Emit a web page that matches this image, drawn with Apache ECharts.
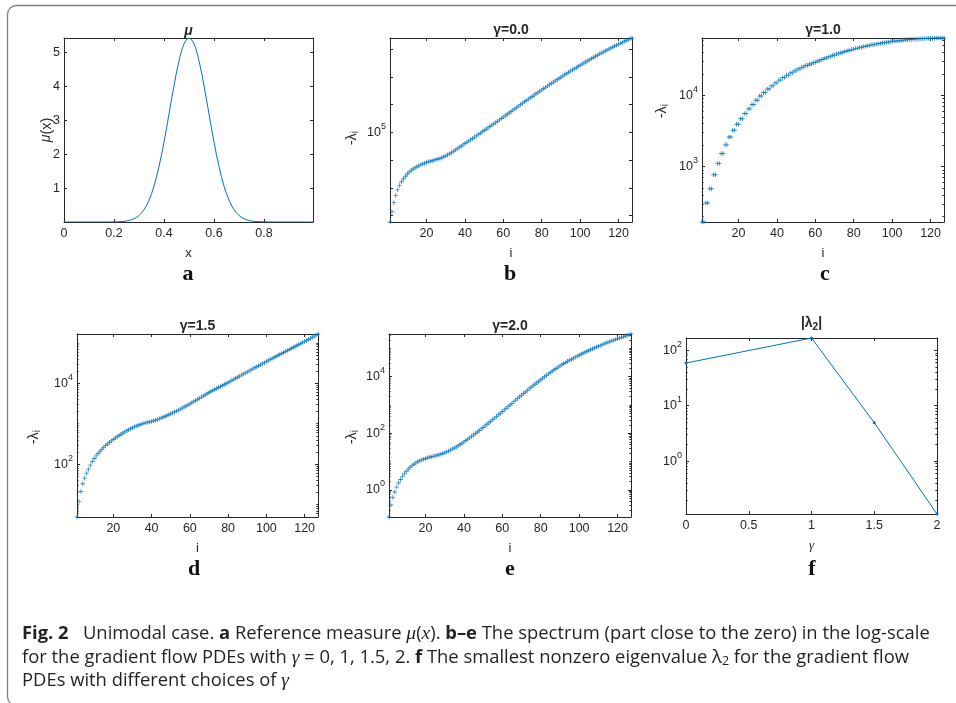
<!DOCTYPE html>
<html>
<head>
<meta charset="utf-8">
<script src="https://cdn.jsdelivr.net/npm/echarts@6.0.0/dist/echarts.min.js"></script>
<style>
  html, body { margin: 0; padding: 0; background: #fff; }
  #chart { width: 956px; height: 703px; }
</style>
</head>
<body>
<div id="chart"></div>
<script>
// ---- panel a: reference measure mu(x)
const muX = [0, 0.02, 0.04, 0.06, 0.08, 0.1, 0.12, 0.14, 0.16, 0.18,
  0.2, 0.22, 0.24, 0.26, 0.28, 0.3, 0.32, 0.34, 0.36, 0.38,
  0.4, 0.42, 0.44, 0.46, 0.48, 0.5, 0.52, 0.54, 0.56, 0.58,
  0.6, 0.62, 0.64, 0.66, 0.68, 0.7, 0.72, 0.74, 0.76, 0.78,
  0.8, 0.82, 0.84, 0.86, 0.88, 0.9, 0.92, 0.94, 0.96, 0.98, 0.996];
const muY = [0, 0, 0, 0, 0, 0, 0, 0, 0, 0.001,
  0.003, 0.008, 0.019, 0.045, 0.096, 0.194, 0.365, 0.644, 1.06, 1.64,
  2.36, 3.19, 4.03, 4.76, 5.26, 5.435, 5.26, 4.76, 4.03, 3.19,
  2.36, 1.64, 1.06, 0.644, 0.365, 0.194, 0.096, 0.045, 0.019, 0.008,
  0.003, 0.001, 0, 0, 0, 0, 0, 0, 0, 0, 0];

// ---- panels b-e: -lambda_i, i = 1..127
const lamB = [59, 138, 295, 537, 851, 1230, 1660, 2140, 2630, 3160,
  3720, 4270, 4790, 5250, 5750, 6310, 6760, 7240, 7760, 8320,
  8710, 9120, 9550, 1.00e4, 1.05e4, 1.10e4, 1.15e4, 1.23e4, 1.32e4, 1.41e4,
  1.55e4, 1.70e4, 1.86e4, 2.09e4, 2.34e4, 2.57e4, 2.88e4, 3.16e4, 3.55e4, 3.98e4,
  4.37e4, 4.90e4, 5.37e4, 6.03e4, 6.76e4, 7.50e4, 8.32e4, 9.33e4, 1.05e5, 1.17e5,
  1.29e5, 1.45e5, 1.62e5, 1.82e5, 2.00e5, 2.24e5, 2.51e5, 2.82e5, 3.16e5, 3.55e5,
  3.98e5, 4.47e5, 5.01e5, 5.62e5, 6.31e5, 7.08e5, 7.94e5, 8.91e5, 1.00e6, 1.12e6,
  1.26e6, 1.41e6, 1.58e6, 1.76e6, 1.95e6, 2.19e6, 2.45e6, 2.75e6, 3.02e6, 3.39e6,
  3.80e6, 4.17e6, 4.68e6, 5.25e6, 5.75e6, 6.46e6, 7.08e6, 7.94e6, 8.71e6, 9.77e6,
  1.07e7, 1.20e7, 1.32e7, 1.45e7, 1.62e7, 1.78e7, 1.95e7, 2.14e7, 2.40e7, 2.63e7,
  2.88e7, 3.16e7, 3.47e7, 3.80e7, 4.17e7, 4.57e7, 5.01e7, 5.50e7, 6.03e7, 6.61e7,
  7.24e7, 7.76e7, 8.51e7, 9.33e7, 1.00e8, 1.10e8, 1.17e8, 1.29e8, 1.38e8, 1.51e8,
  1.62e8, 1.74e8, 1.91e8, 2.04e8, 2.19e8, 2.34e8, 2.51e8];
const lamC = [167, 167, 309, 309, 490, 490, 767, 767, 1110, 1110,
  1530, 1530, 2020, 2020, 2600, 2600, 3240, 3240, 3940, 3940,
  4700, 4700, 5550, 5550, 6460, 6460, 7450, 7450, 8550, 8550,
  9770, 9770, 10960, 10960, 12250, 12250, 13580, 13580, 14960, 14960,
  16370, 16370, 17780, 17780, 19230, 19230, 20650, 20650, 22080, 22080,
  23500, 23500, 24900, 24900, 26240, 26240, 27540, 27540, 28840, 28840,
  30300, 30300, 31900, 31900, 33500, 33500, 35000, 35000, 36600, 36600,
  38200, 38200, 39700, 39700, 41200, 41200, 42700, 42700, 44200, 44200,
  45700, 45700, 47100, 47100, 48500, 48500, 49800, 49800, 51100, 51100,
  52300, 52300, 53500, 53500, 54700, 54700, 55700, 55700, 56700, 56700,
  57700, 57700, 58500, 58500, 59400, 59400, 60200, 60200, 60900, 60900,
  61500, 61500, 62000, 62000, 62500, 62500, 62900, 62900, 63300, 63300,
  63500, 63500, 63700, 63700, 63800, 63800, 63800];
const lamD = [4.94, 12.0, 21.1, 32.7, 45.1, 60.0, 75.3, 94.4, 116, 138,
  160, 184, 209, 234, 260, 288, 316, 347, 376, 407,
  442, 479, 513, 550, 589, 627, 667, 708, 750, 794,
  836, 877, 916, 955, 989, 1020, 1050, 1080, 1100, 1140,
  1180, 1220, 1260, 1320, 1380, 1450, 1510, 1590, 1670, 1760,
  1850, 1950, 2060, 2170, 2290, 2430, 2580, 2740, 2910, 3090,
  3300, 3520, 3750, 4000, 4270, 4550, 4850, 5180, 5520, 5890,
  6240, 6610, 7000, 7410, 7850, 8320, 8810, 9330, 9890, 10500,
  11100, 11800, 12500, 13300, 14100, 15000, 15900, 16900, 18000, 19100,
  20200, 21400, 22700, 24100, 25500, 27100, 28700, 30500, 32300, 34300,
  36300, 38500, 40700, 43200, 45700, 48400, 51300, 54300, 57500, 61000,
  64600, 68200, 72300, 76400, 80900, 85500, 90600, 95700, 101000, 107000,
  114000, 121000, 129000, 137000, 146000, 156000, 165000];
const lamE = [0.111, 0.295, 0.537, 0.851, 1.26, 1.76, 2.34, 3.02, 3.76, 4.57,
  5.43, 6.31, 7.24, 8.13, 9.02, 9.89, 10.7, 11.5, 12.2, 12.9,
  13.6, 14.2, 14.8, 15.4, 16.0, 16.7, 17.4, 18.3, 19.3, 20.4,
  21.9, 23.6, 25.5, 27.7, 30.2, 33.1, 36.5, 40.4, 44.8, 49.8,
  55.5, 61.9, 69.3, 77.8, 87.5, 98.6, 111, 126, 143, 161,
  183, 208, 236, 268, 305, 347, 395, 451, 514, 586,
  670, 766, 875, 1000, 1140, 1310, 1490, 1710, 1950, 2220,
  2540, 2880, 3280, 3720, 4230, 4790, 5410, 6110, 6890, 7760,
  8790, 9930, 11200, 12600, 14100, 15800, 17600, 19500, 21700, 24000,
  26400, 29000, 31800, 34800, 38000, 41400, 45000, 48900, 53000, 57300,
  61900, 66800, 72100, 77600, 83600, 89700, 96400, 103000, 111000, 118000,
  127000, 135000, 144000, 153000, 163000, 173000, 184000, 195000, 207000, 219000,
  231000, 244000, 258000, 273000, 288000, 304000, 321000];

// ---- panel f: |lambda_2| against gamma
const gammaF = [0, 1, 1.5, 2];
const lam2F = [59, 167, 4.94, 0.111];

// ---- ticks
const xTicksA = [0, 0.2, 0.4, 0.6, 0.8];
const yTicksA = [1, 2, 3, 4, 5];
const iTicks = [20, 40, 60, 80, 100, 120];
const gTicksF = [0, 0.5, 1, 1.5, 2];
const bMajor = [1e2, 1e3, 1e4, 1e5, 1e6, 1e7, 1e8];
const bLabels = [1e5];
const cMajor = [1e3, 1e4];
const dMajor = [1e2, 1e4];
const eMajor = [1, 1e2, 1e4];
const fMajor = [1, 10, 100];

const blue = '#0072BD';
const ink = '#262626';
const helv = '"Liberation Sans", Arial, Helvetica, sans-serif';
const serif = '"Liberation Serif", "Times New Roman", serif';
const capFont = '"Open Sans", "Liberation Sans", sans-serif';

const boxes = [
  { left: 64, top: 38, width: 249, height: 184 },   // a
  { left: 390, top: 38, width: 242, height: 184 },  // b
  { left: 702, top: 38, width: 242, height: 184 },  // c
  { left: 77, top: 334, width: 241, height: 183 },  // d
  { left: 389, top: 334, width: 242, height: 183 }, // e
  { left: 686, top: 338, width: 251, height: 176 }  // f
];

const xAxes = [];
const yAxes = [];
const series = [];

const lineStyle = { color: ink, width: 1 };
const supRich = {
  b: { fontSize: 12.5, fontFamily: helv, color: ink },
  s: { fontSize: 9, fontFamily: helv, color: ink, padding: [0, 0, 12, 0] }
};
const logLabel = v => '{b|10}{s|' + Math.round(Math.log10(v)) + '}';

// minor ticks of a log axis: 1..9 x 10^k inside [lo, hi], without the major ones
function minorTicks(lo, hi, major) {
  const out = [];
  for (let e = Math.floor(Math.log10(lo)); e <= Math.ceil(Math.log10(hi)); e++) {
    for (let m = 1; m < 10; m++) {
      const v = m * Math.pow(10, e);
      if (v < lo || v > hi) continue;
      if (major.some(t => Math.abs(t - v) / t < 1e-9)) continue;
      out.push(v);
    }
  }
  return out;
}

function addX(g, o) {
  const base = {
    type: 'value', gridIndex: g, min: o.min, max: o.max,
    splitLine: { show: false },
    axisLine: { show: true, onZero: false, lineStyle }
  };
  xAxes.push(Object.assign({}, base, {
    position: 'bottom',
    name: o.name, nameLocation: 'middle', nameGap: o.nameGap,
    nameTextStyle: o.nameStyle || { color: ink, fontSize: 13, fontFamily: helv },
    axisTick: { inside: true, length: 3, customValues: o.ticks, lineStyle },
    axisLabel: { customValues: o.ticks, margin: 5, color: ink, fontSize: 12.5, fontFamily: helv }
  }));
  const idx = xAxes.length - 1;
  xAxes.push(Object.assign({}, base, {
    position: 'top',
    axisTick: { inside: true, length: 3, customValues: o.ticks, lineStyle },
    axisLabel: { show: false }
  }));
  return idx;
}

function addY(g, o) {
  const base = {
    type: o.log ? 'log' : 'value', logBase: 10, gridIndex: g, min: o.min, max: o.max,
    splitLine: { show: false },
    axisLine: { show: true, onZero: false, lineStyle }
  };
  yAxes.push(Object.assign({}, base, {
    position: 'left',
    axisTick: { inside: true, length: 3, customValues: o.major, lineStyle },
    axisLabel: {
      customValues: o.labels || o.major, margin: 4, color: ink, fontSize: 12.5, fontFamily: helv,
      formatter: o.log ? logLabel : undefined, rich: o.log ? supRich : undefined
    }
  }));
  const idx = yAxes.length - 1;
  yAxes.push(Object.assign({}, base, {
    position: 'right',
    axisTick: { inside: true, length: 3, customValues: o.major, lineStyle },
    axisLabel: { show: false }
  }));
  if (o.minor && o.minor.length) {
    ['left', 'right'].forEach(pos => {
      yAxes.push(Object.assign({}, base, {
        position: pos,
        axisLine: { show: false, onZero: false },
        axisTick: { inside: true, length: 1.6, customValues: o.minor, lineStyle },
        axisLabel: { show: false }
      }));
    });
  }
  return idx;
}

const idx = lamB.map((_, k) => k + 1);
const plus = 'path://M4,0H6V4H10V6H6V10H4V6H0V4H4Z';

// a
let xi = addX(0, { min: 0, max: Math.max(...muX), ticks: xTicksA, name: 'x', nameGap: 25 });
let yi = addY(0, { min: 0, max: Math.max(...muY), major: yTicksA });
series.push({
  type: 'line', xAxisIndex: xi, yAxisIndex: yi, smooth: 0.35, showSymbol: false,
  lineStyle: { color: blue, width: 1 }, data: muX.map((x, k) => [x, muY[k]])
});

// b-e
[[1, lamB, bMajor, bLabels, false], [2, lamC, cMajor, cMajor, true],
 [3, lamD, dMajor, dMajor, true], [4, lamE, eMajor, eMajor, true]].forEach(([g, arr, major, labels, hasMinor]) => {
  const lo = Math.min(...arr), hi = Math.max(...arr);
  const x = addX(g, { min: 1, max: 127, ticks: iTicks, name: 'i', nameGap: 25 });
  const y = addY(g, { log: true, min: lo, max: hi, major, labels, minor: hasMinor ? minorTicks(lo, hi, major) : [] });
  series.push({
    type: 'scatter', xAxisIndex: x, yAxisIndex: y, symbol: plus, symbolSize: 4.5,
    itemStyle: { color: blue }, data: idx.map((i, k) => [i, arr[k]])
  });
});

// f
xi = addX(5, {
  min: 0, max: 2, ticks: gTicksF, name: 'γ', nameGap: 25,
  nameStyle: { color: ink, fontSize: 13, fontFamily: serif, fontStyle: 'italic' }
});
const fLo = Math.min(...lam2F), fHi = Math.max(...lam2F);
yi = addY(5, { log: true, min: fLo, max: fHi, major: fMajor, minor: minorTicks(fLo, fHi, fMajor) });
series.push({
  type: 'line', xAxisIndex: xi, yAxisIndex: yi, symbol: 'circle', symbolSize: 3,
  lineStyle: { color: blue, width: 1 }, itemStyle: { color: blue },
  data: gammaF.map((g, k) => [g, lam2F[k]])
});

// ---- texts
const titleRich = {
  t: { fontSize: 14, fontWeight: 'bold', fontFamily: helv, fill: ink },
  m: { fontSize: 14, fontWeight: 'bold', fontStyle: 'italic', fontFamily: helv, fill: ink },
  s: { fontSize: 10, fontWeight: 'bold', fontFamily: helv, fill: ink, padding: [7, 0, 0, 0] }
};
const titles = [
  ['{m|μ}', 188.5, 31], ['{t|γ=0.0}', 511, 30.5], ['{t|γ=1.0}', 823, 30.5],
  ['{t|γ=1.5}', 197.5, 326], ['{t|γ=2.0}', 510, 326], ['{t||λ}{s|2}{t||}', 811.5, 323.5]
];
const nameRich = {
  n: { fontSize: 14.5, fontFamily: helv, fill: ink },
  m: { fontSize: 14, fontStyle: 'italic', fontFamily: helv, fill: ink },
  i: { fontSize: 10.5, fontFamily: helv, fill: ink, padding: [7, 0, 0, 0] }
};
const yNames = [
  ['{m|μ}{n|(x)}', 46.5, 130], ['{n|-λ}{i|i}', 351.5, 138], ['{n|-λ}{i|i}', 662, 111],
  ['{n|-λ}{i|i}', 34, 437], ['{n|-λ}{i|i}', 351.5, 437]
];
const letters = [['a', 188, 285], ['b', 510, 285], ['c', 825, 285],
  ['d', 194, 580], ['e', 510, 580], ['f', 812, 580]];

const capInk = '#231f20';
const capRich = {
  r: { fontFamily: capFont, fontSize: 18.4, fill: capInk },
  b: { fontFamily: capFont, fontSize: 18.4, fontWeight: 'bold', fill: capInk },
  m: { fontFamily: serif, fontSize: 19.5, fontStyle: 'italic', fill: capInk },
  sub: { fontFamily: capFont, fontSize: 12.5, fill: capInk, padding: [7, 0, 0, 0] }
};
const caption = [
  ['{b|Fig. 2}{r|   Unimodal case. }{b|a}{r| Reference measure }{m|μ}{r|(}{m|x}{r|). }{b|b–e}{r| The spectrum (part close to the zero) in the log-scale}', 634],
  ['{r|for the gradient flow PDEs with }{m|γ}{r| = 0, 1, 1.5, 2. }{b|f}{r| The smallest nonzero eigenvalue λ}{sub|2}{r| for the gradient flow}', 658],
  ['{r|PDEs with different choices of }{m|γ}', 681]
];

const graphic = [
  {
    type: 'rect', silent: true,
    shape: { x: 7.5, y: 5.5, width: 1000, height: 700, r: 9 },
    style: { fill: 'none', stroke: '#7f7f7f', lineWidth: 1.3 }
  }
];
titles.forEach(([text, x, y]) => graphic.push({
  type: 'text', x, y, style: { text, rich: titleRich, align: 'center', verticalAlign: 'middle' }
}));
yNames.forEach(([text, x, y]) => graphic.push({
  type: 'text', x, y, rotation: Math.PI / 2,
  style: { text, rich: nameRich, align: 'center', verticalAlign: 'middle' }
}));
letters.forEach(([text, x, y]) => graphic.push({
  type: 'text', x, y,
  style: { text, fill: '#111', fontFamily: serif, fontWeight: 'bold', fontSize: 22, align: 'center', verticalAlign: 'bottom' }
}));
caption.forEach(([text, y]) => graphic.push({
  type: 'text', x: 22, y, style: { text, rich: capRich, align: 'left', verticalAlign: 'middle' }
}));

const chart = echarts.init(document.getElementById('chart'));
chart.setOption({
  animation: false,
  backgroundColor: '#fff',
  grid: boxes,
  xAxis: xAxes,
  yAxis: yAxes,
  series,
  graphic
});
window.addEventListener('resize', () => chart.resize());
</script>
</body>
</html>
